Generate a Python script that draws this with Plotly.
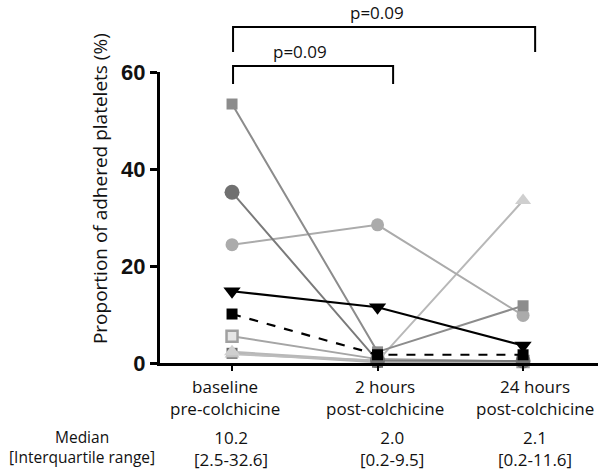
import plotly.graph_objects as go

categories = ["baseline<br>pre-colchicine", "2 hours<br>post-colchicine", "24 hours<br>post-colchicine"]
medians = ["10.2", "2.0", "2.1"]
iqr = ["[2.5-32.6]", "[0.2-9.5]", "[0.2-11.6]"]

# individual patients (proportion of adhered platelets, %)
pat_light_tri = [2.3, 0.4, 33.5]
pat_light_tri2 = [1.8, 0.5, 0.3]
pat_open_sq = [5.5, 0.8, 0.3]
pat_light_circ = [24.4, 28.5, 9.8]
pat_gray_sq = [53.4, 2.3, 11.8]
pat_dark_circ = [35.2, 0.5, 0.4]
pat_dark_sq = [2.0, 0.15, 0.15]
pat_black_sq = [10.1, 1.7, 1.7]
pat_black_tri = [14.8, 11.5, 3.6]

pvals = ["p=0.09", "p=0.09"]

x = [0, 1, 2]
fig = go.Figure()

def add(y, color, symbol, size, lw=2, dash="solid", lcolor=None, mline=None):
    fig.add_trace(go.Scatter(
        x=x, y=y, mode="lines+markers", cliponaxis=False,
        line=dict(color=lcolor or color, width=lw, dash=dash),
        marker=dict(symbol=symbol, size=size, color=color,
                    line=mline or dict(width=0)),
        showlegend=False, hoverinfo="y"))

add(pat_dark_sq, "#6a6a6a", "square", 11, lcolor="#b5b5b5")
add(pat_light_tri2, "#c4c4c4", "triangle-up", 13, lcolor="#bdbdbd")
add(pat_open_sq, "#e6e6e6", "square", 11, lcolor="#a5a5a5", mline=dict(color="#a0a0a0", width=2.5))
add(pat_light_tri, "#cfcfcf", "triangle-up", 14, lcolor="#b8b8b8")
add(pat_light_circ, "#ababab", "circle", 13, lcolor="#ababab")
add(pat_dark_circ, "#707070", "circle", 15, lcolor="#7a7a7a")
add(pat_gray_sq, "#8c8c8c", "square", 11, lcolor="#8c8c8c")
add(pat_black_sq, "#000000", "square", 11, lw=2.2, dash="dash")
add(pat_black_tri, "#000000", "triangle-down", 15, lw=2.2)

txt_font = dict(family="Open Sans, Noto Sans, sans-serif", size=17, color="#111")

ann = []
label_shift = [-7, 7, 12]
med_shift = [-1, 14, 12]
for i, c in enumerate(categories):
    ann.append(dict(x=i, xref="x", y=-0.035, yref="paper", yanchor="top", xanchor="center",
                    text=c, showarrow=False, xshift=label_shift[i], font=txt_font))
    ann.append(dict(x=i, xref="x", y=-0.208, yref="paper", yanchor="top", xanchor="center",
                    text=medians[i] + "<br>" + iqr[i], showarrow=False, xshift=med_shift[i], font=txt_font))
ann.append(dict(x=-0.178, xref="paper", y=-0.208, yref="paper", yanchor="top", xanchor="center",
                text="Median<br>[Interquartile range]", showarrow=False,
                font=dict(family="Open Sans, Noto Sans, sans-serif", size=15.5, color="#111")))
ann.append(dict(x=-0.137, xref="paper", y=0.601, yref="paper", xanchor="center", yanchor="middle",
                text="Proportion of adhered platelets (%)", textangle=-90, showarrow=False,
                font=dict(family="Open Sans, Noto Sans, sans-serif", size=19, color="#111")))

# significance brackets
b1 = dict(x0=0.007, x1=1.107, ytop=1.021, ybot=0.959, ytxt=1.072, shift=-13)
b2 = dict(x0=0.007, x1=2.083, ytop=1.155, ybot=1.069, ytxt=1.203, shift=-7)
shapes = []
for b, p in zip((b1, b2), pvals):
    shapes.append(dict(type="path", xref="x", yref="paper",
                       path=f"M {b['x0']},{b['ybot']} L {b['x0']},{b['ytop']} L {b['x1']},{b['ytop']} L {b['x1']},{b['ybot']}",
                       line=dict(color="black", width=2)))
    ann.append(dict(x=(b['x0'] + b['x1']) / 2, xref="x", y=b['ytxt'], yref="paper", yanchor="middle",
                    text=p, showarrow=False, xshift=b['shift'],
                    font=dict(family="Open Sans, sans-serif", size=17, color="#111")))

fig.update_layout(
    width=604, height=475,
    margin=dict(l=160, r=6, t=72, b=112),
    paper_bgcolor="white", plot_bgcolor="white",
    annotations=ann, shapes=shapes,
    xaxis=dict(range=[-0.495, 2.515], tickvals=x, ticktext=["", "", ""], ticks="outside",
               ticklen=5, tickwidth=1.5, tickcolor="black",
               showline=True, linecolor="black", linewidth=2.5, showgrid=False, zeroline=False),
    yaxis=dict(range=[0, 60], tickvals=[0, 20, 40, 60], ticks="outside", ticklen=7, tickwidth=2.5,
               tickcolor="black", showline=True, linecolor="black", linewidth=3,
               showgrid=False, zeroline=False,
               tickfont=dict(family="Liberation Sans, Arial, sans-serif", size=22, color="#111", weight="bold")),
)
fig.write_html("out.html", config={"displayModeBar": False},
               post_script="document.body.style.margin='0px';document.body.style.overflow='hidden';")
